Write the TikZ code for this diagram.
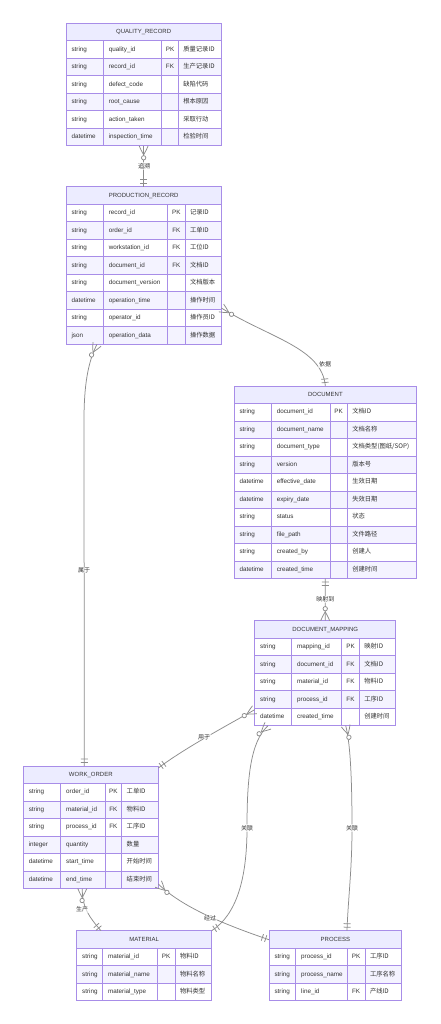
\documentclass[tikz,border=0pt]{standalone}
\usepackage{fontspec}
\setmainfont{Liberation Sans}
\newfontfamily\cjk{Noto Sans CJK SC}
\usetikzlibrary{calc,decorations.markings}
\definecolor{hdr}{HTML}{ECECFF}
\definecolor{rowc}{HTML}{F4F3FF}
\definecolor{bord}{HTML}{A88DE8}
\definecolor{txt}{HTML}{333333}
\definecolor{relc}{HTML}{8C8C8C}
\tikzset{
  cell/.style={inner sep=0pt, outer sep=0pt, text=txt, font=\fontsize{6.3}{7}\selectfont, text height=4.6pt, text depth=1.4pt},
  cmt/.style={cell, font=\cjk\fontsize{6.3}{7}\selectfont},
  ttl/.style={cell, font=\fontsize{6}{7}\selectfont},
  gridl/.style={draw=bord, line width=0.9pt},
  relline/.style={draw=relc, line width=0.75pt},
  lbl/.style={inner sep=0.8pt, text=txt, font=\cjk\fontsize{6}{7}\selectfont, fill=white, fill opacity=0.6, text opacity=1},
  manystart/.style={postaction={decorate,decoration={markings,
    mark=at position 0 with {
      \draw[relline] (0,4.5) .. controls (3.5,3) .. (9,0);
      \draw[relline] (0,-4.5) .. controls (3.5,-3) .. (9,0);
      \draw[relline,fill=white] (12,0) circle (2.2);
    }}}},
  oneend/.style={postaction={decorate,decoration={markings,
    mark=at position 1 with {
      \draw[relline] (-3.5,-3.5) -- (-3.5,3.5) (-7,-3.5) -- (-7,3.5);
    }}}},
}
\newcommand\entity[9]{%
  \def\En{#1}\def\Ex{#2}\def\Ey{#3}\def\EX{#4}\def\Ca{#5}\def\Cb{#6}\def\Cc{#7}%
  \node[inner sep=0pt,outer sep=0pt,minimum width={#4-#2},minimum height={17.5*(#8+1)},anchor=north west,fill=white] (#1) at (#2,#3) {};
  \fill[hdr] (#2,#3) rectangle (#4,#3+17.5);
  \node[ttl] (#1-t) at ({(#2+#4)/2},#3+8.75) {#9};
}
\newcommand\erow[5]{%
  \pgfmathsetmacro\Rt{\Ey+17.5*#1}%
  \pgfmathsetmacro\Rm{\Rt+8.75}%
  \pgfmathsetmacro\Rb{\Rt+17.5}%
  \ifodd#1 \else \fill[rowc] (\Ex,\Rt) rectangle (\EX,\Rb);\fi
  \draw[gridl] (\Ex,\Rt) rectangle (\EX,\Rb) (\Ca,\Rt) -- (\Ca,\Rb) (\Cb,\Rt) -- (\Cb,\Rb) (\Cc,\Rt) -- (\Cc,\Rb);
  \node[cell,anchor=west] (\En-#1a) at (\Ex+5.5,\Rm) {#2};
  \node[cell,anchor=west] (\En-#1b) at (\Ca+5.5,\Rm) {#3};
  \node[cell] (\En-#1c) at ({(\Cb+\Cc)/2},\Rm) {#4};
  \node[cmt,anchor=west] (\En-#1d) at (\Cc+5,\Rm) {#5};
}
\begin{document}
\begin{tikzpicture}[x=1pt,y=-1pt]
\fill[white] (0,0) rectangle (440,1024);
\useasboundingbox (0,0) rectangle (440,1024);

% QUALITY_RECORD
\entity{qr}{66}{23.3}{221.3}{103.3}{161.7}{178.3}{6}{QUALITY\_RECORD}
\erow{1}{string}{quality\_id}{PK}{质量记录ID}
\erow{2}{string}{record\_id}{FK}{生产记录ID}
\erow{3}{string}{defect\_code}{}{缺陷代码}
\erow{4}{string}{root\_cause}{}{根本原因}
\erow{5}{string}{action\_taken}{}{采取行动}
\erow{6}{datetime}{inspection\_time}{}{检验时间}

% PRODUCTION_RECORD
\entity{pr}{66}{186.7}{221.3}{103.3}{167.7}{185}{8}{PRODUCTION\_RECORD}
\erow{1}{string}{record\_id}{PK}{记录ID}
\erow{2}{string}{order\_id}{FK}{工单ID}
\erow{3}{string}{workstation\_id}{FK}{工位ID}
\erow{4}{string}{document\_id}{FK}{文档ID}
\erow{5}{string}{document\_version}{}{文档版本}
\erow{6}{datetime}{operation\_time}{}{操作时间}
\erow{7}{string}{operator\_id}{}{操作员ID}
\erow{8}{json}{operation\_data}{}{操作数据}

% DOCUMENT
\entity{doc}{234}{386}{416.7}{271.3}{330}{347.3}{10}{DOCUMENT}
\erow{1}{string}{document\_id}{PK}{文档ID}
\erow{2}{string}{document\_name}{}{文档名称}
\erow{3}{string}{document\_type}{}{文档类型(图纸/SOP)}
\erow{4}{string}{version}{}{版本号}
\erow{5}{datetime}{effective\_date}{}{生效日期}
\erow{6}{datetime}{expiry\_date}{}{失效日期}
\erow{7}{string}{status}{}{状态}
\erow{8}{string}{file\_path}{}{文件路径}
\erow{9}{string}{created\_by}{}{创建人}
\erow{10}{datetime}{created\_time}{}{创建时间}

% DOCUMENT_MAPPING
\entity{dm}{254.7}{620.7}{395.7}{291.7}{341.7}{359.3}{5}{DOCUMENT\_MAPPING}
\erow{1}{string}{mapping\_id}{PK}{映射ID}
\erow{2}{string}{document\_id}{FK}{文档ID}
\erow{3}{string}{material\_id}{FK}{物料ID}
\erow{4}{string}{process\_id}{FK}{工序ID}
\erow{5}{datetime}{created\_time}{}{创建时间}

% WORK_ORDER
\entity{wo}{23.3}{766}{158.3}{60.7}{105}{121.7}{6}{WORK\_ORDER}
\erow{1}{string}{order\_id}{PK}{工单ID}
\erow{2}{string}{material\_id}{FK}{物料ID}
\erow{3}{string}{process\_id}{FK}{工序ID}
\erow{4}{integer}{quantity}{}{数量}
\erow{5}{datetime}{start\_time}{}{开始时间}
\erow{6}{datetime}{end\_time}{}{结束时间}

% MATERIAL
\entity{mat}{76.7}{930.7}{211.7}{102.7}{157.3}{175}{3}{MATERIAL}
\erow{1}{string}{material\_id}{PK}{物料ID}
\erow{2}{string}{material\_name}{}{物料名称}
\erow{3}{string}{material\_type}{}{物料类型}

% PROCESS
\entity{proc}{269}{930.7}{401.7}{295.7}{347.3}{365}{3}{PROCESS}
\erow{1}{string}{process\_id}{PK}{工序ID}
\erow{2}{string}{process\_name}{}{工序名称}
\erow{3}{string}{line\_id}{FK}{产线ID}

\foreach \n in {qr,pr,doc,dm,wo,mat,proc}{
  \draw[gridl] (\n.north west) rectangle (\n.south east);
}

% relationships (many side -> one side)
\draw[relline,manystart,oneend] (qr.south) -- (pr.north);
\draw[relline,manystart,oneend] ($(pr.north east)+(0,121.3)$) .. controls (270,338) and (322,348) .. (doc.north);
\draw[relline,manystart,oneend] ($(pr.south west)+(31,0)$) .. controls (88,362) and (84,385) .. (84,420) -- ($(wo.north west)+(61,0)$);
\draw[relline,manystart,oneend] (dm.north) -- (doc.south);
\draw[relline,manystart,oneend] ($(dm.south west)+(0,-16)$) .. controls (226,726) and (185,748) .. ($(wo.north east)+(0,2)$);
\draw[relline,manystart,oneend] ($(dm.south west)+(13.3,0)$) .. controls (250,742) and (247,780) .. (247,828) .. controls (247,880) and (236,915) .. (mat.north east);
\draw[relline,manystart,oneend] ($(dm.south west)+(91,0)$) .. controls (351,745) and (352,790) .. (352,828) .. controls (352,870) and (348,900) .. ($(proc.north west)+(78,0)$);
\draw[relline,manystart,oneend] ($(wo.south west)+(59,0)$) .. controls (82,908) and (90,918) .. ($(mat.north west)+(24.3,0)$);
\draw[relline,manystart,oneend] ($(wo.south east)+(0,-4.5)$) .. controls (185,910) and (235,928) .. ($(proc.north west)+(0,9)$);

% labels
\node[lbl] (l1) at (144,166) {追溯};
\node[lbl] (l2) at (325,364.5) {依据};
\node[lbl] (l3) at (84,570) {属于};
\node[lbl] (l4) at (325.3,599.5) {映射到};
\node[lbl] (l5) at (204,737) {用于};
\node[lbl] (l6) at (247,828) {关联};
\node[lbl] (l7) at (352,828) {关联};
\node[lbl] (l8) at (82,909.5) {生产};
\node[lbl] (l9) at (210,918.5) {经过};
\end{tikzpicture}
\end{document}
